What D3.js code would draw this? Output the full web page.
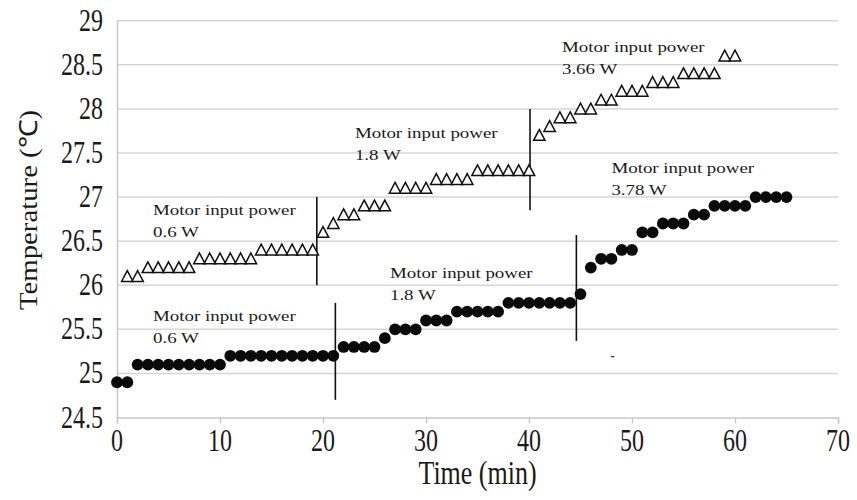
<!DOCTYPE html>
<html>
<head>
<meta charset="utf-8">
<script src="https://cdn.jsdelivr.net/npm/d3@7"></script>
<style>
  html, body { margin: 0; padding: 0; background: #fff; }
  svg { display: block; }
  text { font-family: "Liberation Serif", "Times New Roman", serif; fill: #1a1a1a; }
</style>
</head>
<body>
<svg id="chart" width="857" height="500"></svg>
<script>
// Time (min) and temperature (°C) of the upper series (triangles)
const triangleTime = [1,2,3,4,5,6,7,8,9,10,11,12,13,14,15,16,17,18,19,20,
  21,22,23,24,25,26,27,28,29,30,31,32,33,34,35,36,37,38,39,40,
  41,42,43,44,45,46,47,48,49,50,51,52,53,54,55,56,57,58,59,60];
const triangleTemp = [26.1,26.1,26.2,26.2,26.2,26.2,26.2,26.3,26.3,26.3,26.3,26.3,26.3,
  26.4,26.4,26.4,26.4,26.4,26.4,26.6,26.7,26.8,26.8,26.9,26.9,26.9,
  27.1,27.1,27.1,27.1,27.2,27.2,27.2,27.2,27.3,27.3,27.3,27.3,27.3,27.3,
  27.7,27.8,27.9,27.9,28.0,28.0,28.1,28.1,28.2,28.2,28.2,28.3,28.3,28.3,
  28.4,28.4,28.4,28.4,28.6,28.6];

// Time (min) and temperature (°C) of the lower series (filled circles)
const circleTime = [0,1,2,3,4,5,6,7,8,9,10,11,12,13,14,15,16,17,18,19,20,
  21,22,23,24,25,26,27,28,29,30,31,32,33,34,35,36,37,38,39,40,
  41,42,43,44,45,46,47,48,49,50,51,52,53,54,55,56,57,58,59,60,
  61,62,63,64,65];
const circleTemp = [24.9,24.9,25.1,25.1,25.1,25.1,25.1,25.1,25.1,25.1,25.1,
  25.2,25.2,25.2,25.2,25.2,25.2,25.2,25.2,25.2,25.2,25.2,
  25.3,25.3,25.3,25.3,25.4,25.5,25.5,25.5,25.6,25.6,25.6,
  25.7,25.7,25.7,25.7,25.7,25.8,25.8,25.8,25.8,25.8,25.8,25.8,
  25.9,26.2,26.3,26.3,26.4,26.4,26.6,26.6,26.7,26.7,26.7,
  26.8,26.8,26.9,26.9,26.9,26.9,27.0,27.0,27.0,27.0];

// Power switch markers: time and temperature span of each vertical line
const switchTime = [19.4, 40.1, 21.2, 44.6];
const switchLow  = [26.0, 26.85, 24.7, 25.37];
const switchHigh = [27.0, 28.0, 25.8, 26.57];

// Motor power notes
const noteTitle = "Motor input power";
const notePower = ["0.6 W", "1.8 W", "3.66 W", "0.6 W", "1.8 W", "3.78 W"];

// Axis ticks
const xTicks = [0,10,20,30,40,50,60,70];
const yTicks = [24.5,25,25.5,26,26.5,27,27.5,28,28.5,29];

// ---- layout ----
const plot = { left: 117, right: 838, top: 20.7, bottom: 417.5 };
const notePos = [ // where each note sits (time, temperature of first baseline)
  [3.5, 26.80], [23.1, 27.67], [43.2, 28.64],
  [3.5, 25.59], [26.5, 26.08], [48.0, 27.27]
];

const svg = d3.select("#chart");
const x = d3.scaleLinear().domain([0, 70]).range([plot.left, plot.right]);
const y = d3.scaleLinear().domain([24.5, 29]).range([plot.bottom, plot.top]);

function scaledText(g, px, py, str, size, anchor, sx, sy) {
  return g.append("text")
    .attr("transform", `translate(${px},${py}) scale(${sx},${sy})`)
    .attr("font-size", size)
    .attr("text-anchor", anchor || "start")
    .text(str);
}

// horizontal gridlines
svg.append("g").selectAll("line").data(yTicks.slice(1)).join("line")
  .attr("x1", plot.left).attr("x2", plot.right)
  .attr("y1", d => y(d)).attr("y2", d => y(d))
  .attr("stroke", "#d6d6d6").attr("stroke-width", 1.5);

// axes
const xAxis = svg.append("g").attr("transform", `translate(0,${plot.bottom})`)
  .call(d3.axisBottom(x).tickValues(xTicks).tickSize(6).tickFormat(""));
const yAxis = svg.append("g").attr("transform", `translate(${plot.left},0)`)
  .call(d3.axisLeft(y).tickValues(yTicks).tickSize(0).tickFormat(""));
[xAxis, yAxis].forEach(a => {
  a.selectAll("path, line").attr("stroke", "#c8c8c8").attr("stroke-width", 1.5);
});

// tick labels
const tickG = svg.append("g");
xTicks.forEach(t => scaledText(tickG, x(t), plot.bottom + 33, String(t), 24, "middle", 1.0, 1.3));
yTicks.forEach(v => scaledText(tickG, plot.left - 14, y(v) + 10, String(v), 24, "end", 1.0, 1.3));

// axis titles
scaledText(svg, x(35), 484, "Time (min)", 26, "middle", 1.0, 1.3);
svg.append("text")
  .attr("transform", `translate(37,210) rotate(-90)`)
  .attr("font-size", 25).attr("text-anchor", "middle")
  .attr("textLength", 200).attr("lengthAdjust", "spacingAndGlyphs")
  .text("Temperature (℃)");

// switch lines
svg.append("g").selectAll("line").data(switchTime).join("line")
  .attr("x1", d => x(d)).attr("x2", d => x(d))
  .attr("y1", (d, i) => y(switchLow[i])).attr("y2", (d, i) => y(switchHigh[i]))
  .attr("stroke", "#111").attr("stroke-width", 1.6);

// circles
svg.append("g").selectAll("circle").data(circleTime).join("circle")
  .attr("cx", d => x(d)).attr("cy", (d, i) => y(circleTemp[i]))
  .attr("r", 5.9).attr("fill", "#0a0a0a");

// triangles
const tri = "M0,-5.8L5.7,5L-5.7,5Z";
svg.append("g").selectAll("path").data(triangleTime).join("path")
  .attr("d", tri)
  .attr("transform", (d, i) => `translate(${x(d)},${y(triangleTemp[i])})`)
  .attr("fill", "#fff").attr("stroke", "#111").attr("stroke-width", 1.5);

// notes
const noteG = svg.append("g");
notePos.forEach((p, i) => {
  scaledText(noteG, x(p[0]), y(p[1]), noteTitle, 15.5, "start", 1.22, 1).attr("fill", "#2a2a2a");
  scaledText(noteG, x(p[0]), y(p[1]) + 22, notePower[i], 15.5, "start", 1.22, 1).attr("fill", "#2a2a2a");
});

// small stray dash
svg.append("line")
  .attr("x1", x(47.95)).attr("x2", x(48.3))
  .attr("y1", y(25.19)).attr("y2", y(25.19))
  .attr("stroke", "#333").attr("stroke-width", 1.2);
</script>
</body>
</html>
